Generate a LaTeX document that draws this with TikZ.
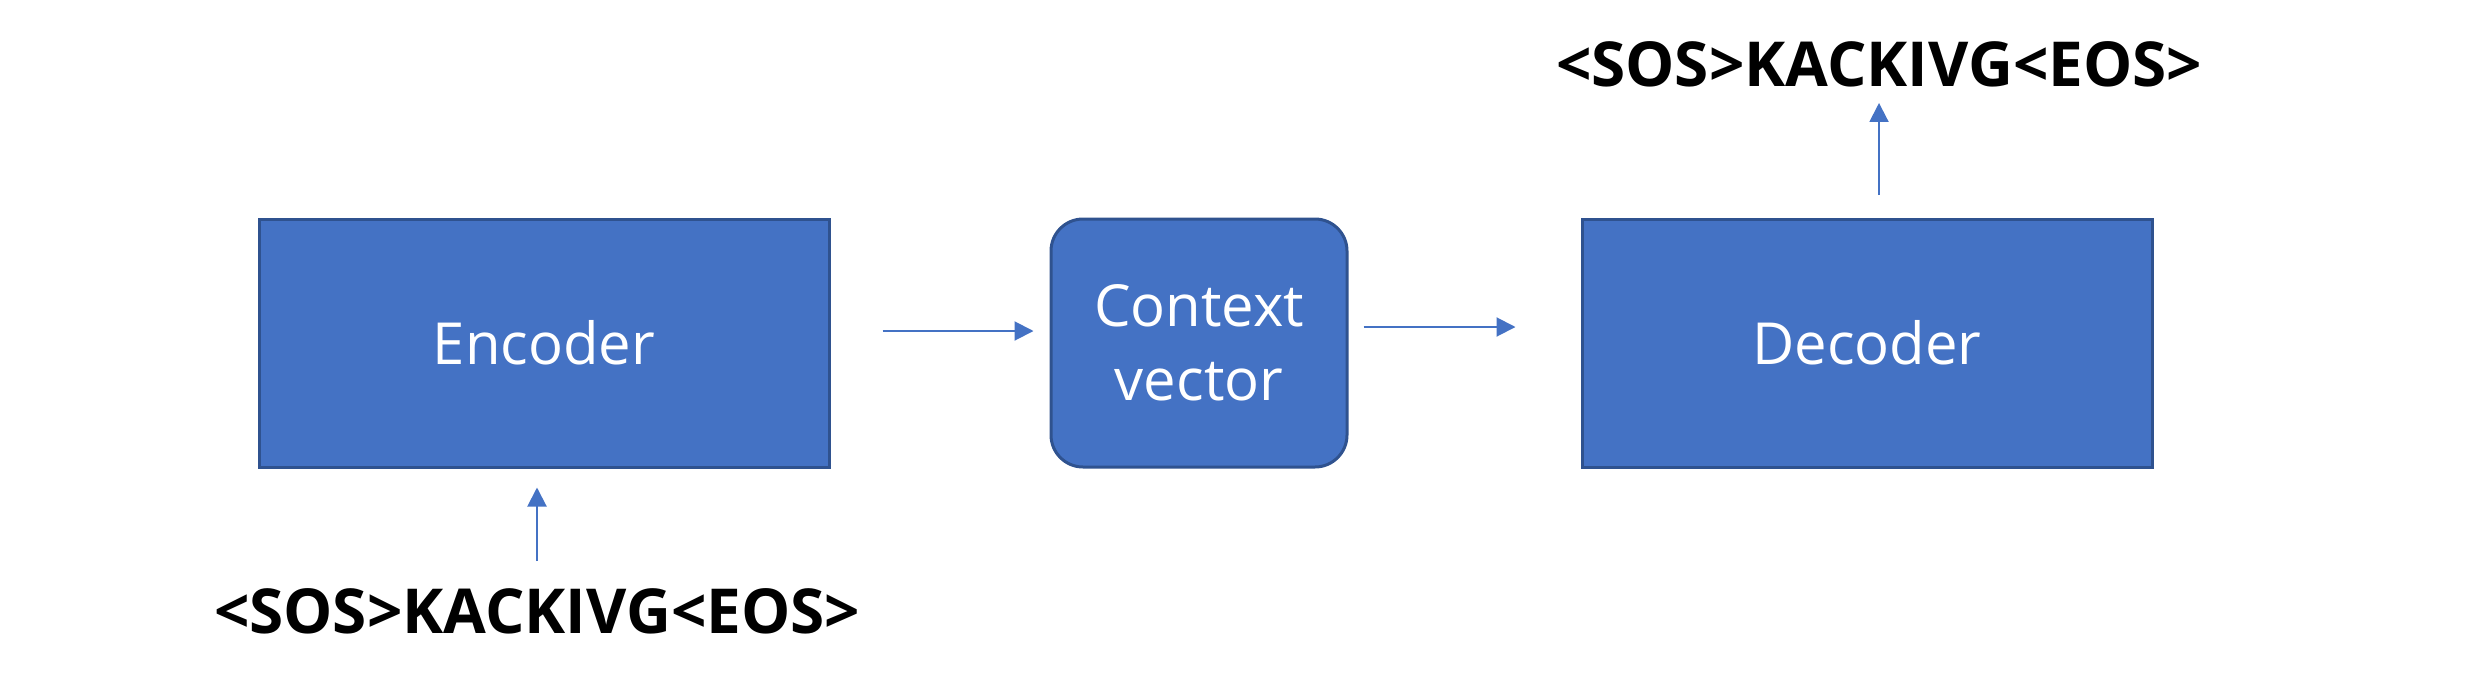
\documentclass[tikz,border=0pt]{standalone}
\usepackage{fontspec}
\setmainfont{Open Sans}
\usetikzlibrary{arrows.meta}
\definecolor{boxfill}{HTML}{4472C4}
\definecolor{boxline}{HTML}{2F528F}
\tikzset{
  blk/.style={draw=boxline, line width=3pt, fill=boxfill, text=white,
    font=\fontsize{58}{74}\selectfont, align=center, inner sep=0pt},
  arr/.style={draw=boxfill, line width=2pt, -{Triangle[length=19pt,width=19pt]}},
  seq/.style={font=\fontsize{62}{64}\selectfont\bfseries, inner sep=0pt, text=black}
}
\begin{document}
\begin{tikzpicture}[x=1pt,y=-1pt]
\useasboundingbox (0,0) rectangle (2490,678);
\node[blk, minimum width=570pt, minimum height=248pt] (enc) at (544,343) {Encoder};
\node[blk, rounded corners=32pt, minimum width=296pt, minimum height=248pt] (ctx) at (1199,343) {Context\\vector};
\node[blk, minimum width=570pt, minimum height=248pt] (dec) at (1867,343) {Decoder};
\node[seq] (inp) at (537,611) {<SOS>KACKIVG<EOS>};
\node[seq] (out) at (1879,64) {<SOS>KACKIVG<EOS>};
\coordinate (ia) at (537,561);
\coordinate (oa) at (1879,195);
\draw[arr, shorten <=52pt, shorten >=16pt] ([yshift=12pt]enc.east) -- ([yshift=12pt]ctx.west);
\draw[arr, shorten <=15pt, shorten >=65pt] ([yshift=16pt]ctx.east) -- ([yshift=16pt]dec.west);
\draw[arr, shorten >=19pt] (ia) -- (ia |- enc.south);
\draw[arr, shorten >=16pt] (oa) -- (oa |- out.south);
\end{tikzpicture}
\end{document}
